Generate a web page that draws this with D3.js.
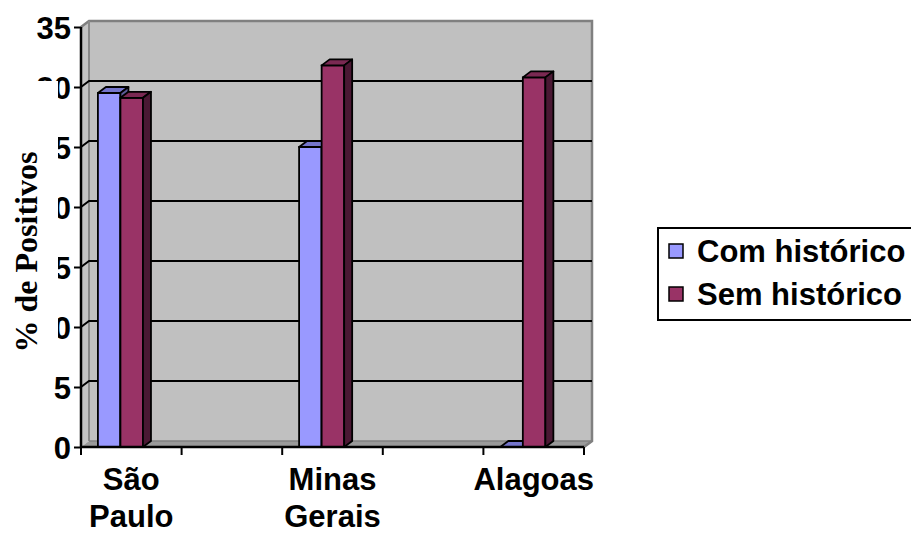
<!DOCTYPE html>
<html>
<head>
<meta charset="utf-8">
<script src="https://cdn.jsdelivr.net/npm/d3@7"></script>
<style>
  html, body { margin: 0; padding: 0; background: #ffffff; }
  svg { display: block; }
</style>
</head>
<body>
<svg id="chart" width="911" height="536"></svg>
<script>
// ---- data ----
const categories = ["São Paulo", "", "Minas Gerais", "", "Alagoas"];
const seriesNames = ["Com histórico", "Sem histórico"];
const comHistorico = [29.5, null, 25.0, null, 0];
const semHistorico = [29.1, null, 31.8, null, 30.8];
const yTicks = [0, 5, 10, 15, 20, 25, 30, 35];
const yTitle = "% de Positivos";

// ---- styles ----
const colors = {
  com: { front: "#9999ff", top: "#7575cc", side: "#5c5c99" },
  sem: { front: "#993366", top: "#7a2952", side: "#4a1833" }
};
const sans = "'Liberation Sans', Arial, sans-serif";
const serif = "'Liberation Serif', 'Times New Roman', serif";

const svg = d3.select("#chart");
const dx = 8, dy = -6;              // 3D depth offset
const x0 = 81, x1 = 584;            // front axis extent
const y = d3.scaleLinear().domain([0, 35]).range([447, 27]);
const x = d3.scaleBand().domain(d3.range(categories.length)).range([x0, x1]).padding(0);
const bw = x.bandwidth();
const inner = d3.scaleBand().domain([0, 1]).range([bw * 0.168, bw * 0.616]).padding(0);

// ---- walls ----
const g = svg.append("g");
g.append("rect")
  .attr("x", x0 + dx).attr("y", y(35) + dy)
  .attr("width", x1 - x0).attr("height", y(0) - y(35))
  .attr("fill", "#c0c0c0");
g.append("polygon")
  .attr("points", [[x0, y(35)], [x0 + dx, y(35) + dy], [x0 + dx, y(0) + dy], [x0, y(0)]].join(" "))
  .attr("fill", "#c4c4c4");
g.append("polygon")
  .attr("points", [[x0, y(0)], [x0 + dx, y(0) + dy], [x1 + dx, y(0) + dy], [x1, y(0)]].join(" "))
  .attr("fill", "#9a9a9a");
g.append("path")
  .attr("d", `M${x0},${y(35)} L${x0 + dx},${y(35) + dy} L${x1 + dx},${y(35) + dy} L${x1 + dx},${y(0) + dy} L${x1},${y(0)}`)
  .attr("fill", "none").attr("stroke", "#808080").attr("stroke-width", 2.5);
g.append("line")
  .attr("x1", x0 + dx).attr("x2", x0 + dx).attr("y1", y(35) + dy).attr("y2", y(0) + dy)
  .attr("stroke", "#8a8a8a").attr("stroke-width", 2);
g.append("line")
  .attr("x1", x0 + dx).attr("x2", x1 + dx).attr("y1", y(0) + dy).attr("y2", y(0) + dy)
  .attr("stroke", "#808080").attr("stroke-width", 1.5);

// gridlines
const grid = yTicks.filter(t => t > 0 && t < 35);
g.selectAll(".grid").data(grid).enter().append("path")
  .attr("d", t => `M${x0},${y(t)} L${x0 + dx},${y(t) + dy} L${x1 + dx},${y(t) + dy}`)
  .attr("fill", "none").attr("stroke", "#000").attr("stroke-width", 2);

// ---- bars ----
function drawBar(gg, bx, bwid, v, c) {
  const yt = y(v), yb = y(0);
  const xr = bx + bwid;
  gg.append("rect").attr("x", bx).attr("y", yt).attr("width", bwid).attr("height", yb - yt)
    .attr("fill", c.front).attr("stroke", "#000").attr("stroke-width", 1.8);
  gg.append("polygon")
    .attr("points", [[bx, yt], [bx + dx, yt + dy], [xr + dx, yt + dy], [xr, yt]].join(" "))
    .attr("fill", c.top).attr("stroke", "#000").attr("stroke-width", 1.8).attr("stroke-linejoin", "round");
  gg.append("polygon")
    .attr("points", [[xr, yt], [xr + dx, yt + dy], [xr + dx, yb + dy], [xr, yb]].join(" "))
    .attr("fill", c.side).attr("stroke", "#000").attr("stroke-width", 1.8).attr("stroke-linejoin", "round");
}
const barsG = svg.append("g");
categories.forEach((cat, i) => {
  [[comHistorico, colors.com, 0], [semHistorico, colors.sem, 1]].forEach(([arr, c, s]) => {
    const v = arr[i];
    if (v === null || v === undefined) return;
    drawBar(barsG, x(i) + inner(s), inner.bandwidth(), v, c);
  });
});

// ---- axes ----
const yAxis = d3.axisLeft(y).tickValues(yTicks).tickSize(7).tickFormat(d3.format("d"));
const ya = svg.append("g").attr("transform", `translate(${x0},0)`).call(yAxis);
ya.select(".domain").attr("stroke", "#000").attr("stroke-width", 2.5).attr("d", `M0,${y(35)}V${y(0)}`);
ya.selectAll(".tick line").attr("stroke", "#000").attr("stroke-width", 2);
ya.selectAll(".tick text")
  .attr("x", -10).attr("dy", "0.36em")
  .attr("font-family", sans).attr("font-weight", "bold").attr("font-size", 31).attr("fill", "#000");

const xa = svg.append("g");
xa.append("line").attr("x1", x0).attr("x2", x1).attr("y1", y(0)).attr("y2", y(0))
  .attr("stroke", "#000").attr("stroke-width", 2.5);
const bounds = d3.range(categories.length + 1).map(i => x0 + i * bw);
xa.selectAll(".xt").data(bounds).enter().append("line")
  .attr("x1", d => d).attr("x2", d => d).attr("y1", y(0)).attr("y2", y(0) + 8)
  .attr("stroke", "#000").attr("stroke-width", 2);

const catLines = { "São Paulo": ["São", "Paulo"], "Minas Gerais": ["Minas", "Gerais"], "Alagoas": ["Alagoas"] };
categories.forEach((cat, i) => {
  if (!cat) return;
  const lines = catLines[cat] || [cat];
  const t = svg.append("text")
    .attr("text-anchor", "middle")
    .attr("font-family", sans).attr("font-weight", "bold").attr("font-size", 31).attr("fill", "#000");
  lines.forEach((ln, k) => {
    t.append("tspan").attr("x", x(i) + bw / 2).attr("y", 490 + k * 37).text(ln);
  });
});

// ---- y title (with white box) ----
svg.append("rect").attr("x", 0).attr("y", 81).attr("width", 58).attr("height", 288).attr("fill", "#fff");
svg.append("text")
  .attr("transform", "translate(37,252) rotate(-90)")
  .attr("text-anchor", "middle")
  .attr("font-family", serif).attr("font-weight", "bold").attr("font-size", 32).attr("fill", "#000")
  .text(yTitle);

// ---- legend ----
const leg = svg.append("g");
leg.append("rect").attr("x", 658).attr("y", 228).attr("width", 270).attr("height", 92)
  .attr("fill", "#fff").attr("stroke", "#000").attr("stroke-width", 2);
const legColors = [colors.com.front, colors.sem.front];
seriesNames.forEach((name, k) => {
  const cy = 251 + k * 43;
  leg.append("rect").attr("x", 669).attr("y", cy - 7).attr("width", 14).attr("height", 14)
    .attr("fill", legColors[k]).attr("stroke", "#000").attr("stroke-width", 1.5);
  leg.append("text").attr("x", 697).attr("y", cy + 11)
    .attr("font-family", sans).attr("font-weight", "bold").attr("font-size", 31).attr("fill", "#000")
    .text(name);
});
</script>
</body>
</html>
